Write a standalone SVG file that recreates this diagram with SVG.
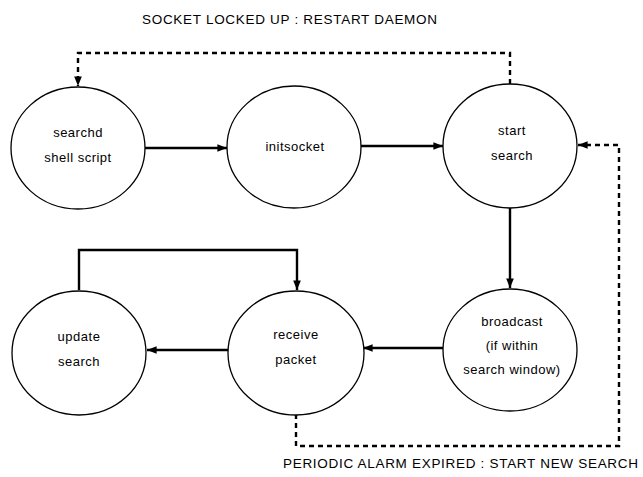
<svg xmlns="http://www.w3.org/2000/svg" width="643" height="477" viewBox="0 0 643 477">
<style>
.node ellipse{fill:#fff;stroke:#000;stroke-width:1.3}
.node text{font-family:"Liberation Sans",Arial,sans-serif;font-size:13px;letter-spacing:0.5px;text-anchor:middle;fill:#000}
.lbl{font-family:"Liberation Sans",Arial,sans-serif;font-size:13.5px;fill:#000;text-anchor:middle}
.solid{fill:none;stroke:#000;stroke-width:2.4}
.dash{fill:none;stroke:#000;stroke-width:2.4;stroke-dasharray:5,4}
</style>
<defs>
<marker id="ah" viewBox="0 0 10 10" refX="10" refY="5" markerWidth="4" markerHeight="4" orient="auto" markerUnits="strokeWidth">
<path d="M0,1 L10,5 L0,9 z" fill="#000"/>
</marker>
</defs>
<rect width="643" height="477" fill="#fff"/>
<text class="lbl" x="289.5" y="24" textLength="295" lengthAdjust="spacing">SOCKET LOCKED UP : RESTART DAEMON</text>
<text class="lbl" x="460.5" y="468" textLength="355" lengthAdjust="spacing">PERIODIC ALARM EXPIRED : START NEW SEARCH</text>
<g id="connectors">
<line class="solid" x1="145" y1="148" x2="227" y2="148" marker-end="url(#ah)"/>
<line class="solid" x1="361" y1="146" x2="443" y2="146" marker-end="url(#ah)"/>
<line class="solid" x1="510" y1="208" x2="510" y2="288" marker-end="url(#ah)"/>
<line class="solid" x1="443" y1="348" x2="363" y2="348" marker-end="url(#ah)"/>
<line class="solid" x1="228" y1="350" x2="147" y2="350" marker-end="url(#ah)"/>
<polyline class="solid" points="79,290 79,250 297,250 297,290" marker-end="url(#ah)"/>
<polyline class="dash" points="510,84 510,53 78,53 78,86" marker-end="url(#ah)"/>
<polyline class="dash" points="296,414 296,446 619,446 619,145 578,145" marker-end="url(#ah)"/>
</g>
<g id="searchd" class="node"><ellipse cx="78" cy="148" rx="67" ry="61"/><text x="78" y="137">searchd</text><text x="78" y="162">shell script</text></g>
<g id="initsocket" class="node"><ellipse cx="294" cy="147" rx="67" ry="61"/><text x="295" y="151">initsocket</text></g>
<g id="startsearch" class="node"><ellipse cx="510" cy="146" rx="67" ry="62"/><text x="512" y="135">start</text><text x="512" y="160">search</text></g>
<g id="broadcast" class="node"><ellipse cx="510" cy="350" rx="67" ry="61"/><text x="512" y="326">broadcast</text><text x="512" y="350">(if within</text><text x="512" y="374">search window)</text></g>
<g id="receive" class="node"><ellipse cx="296" cy="353" rx="68" ry="62"/><text x="296" y="339">receive</text><text x="296" y="364">packet</text></g>
<g id="update" class="node"><ellipse cx="79" cy="353" rx="67" ry="62"/><text x="79" y="341">update</text><text x="79" y="366">search</text></g>
</svg>
